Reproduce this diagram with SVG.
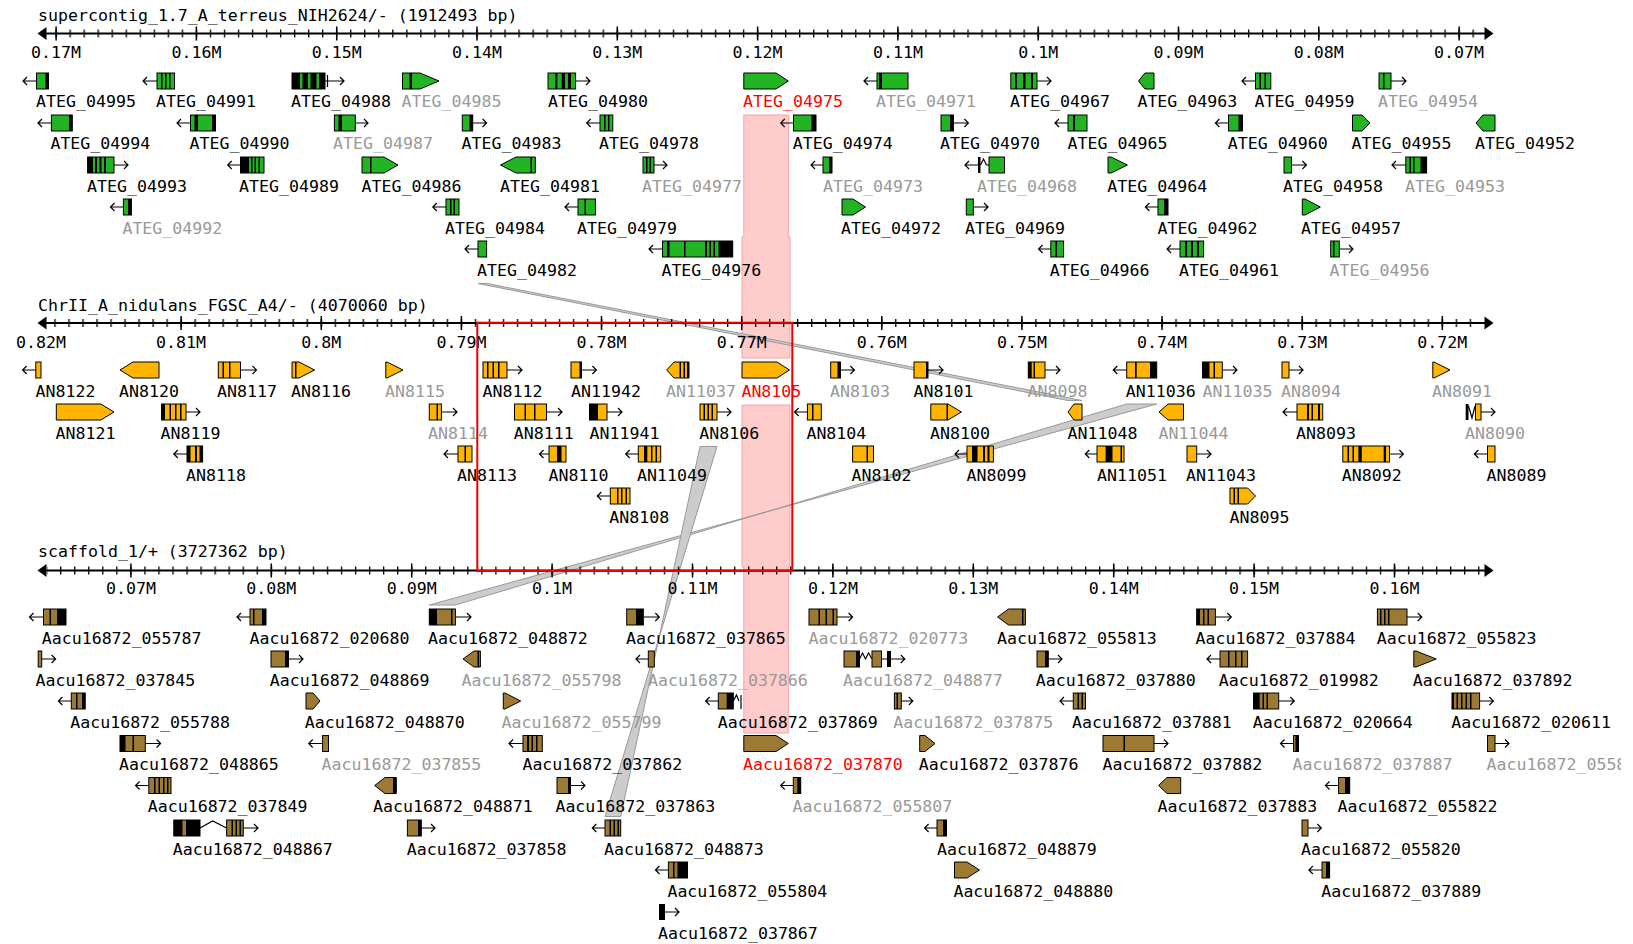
<svg xmlns="http://www.w3.org/2000/svg" width="1633" height="944" viewBox="0 0 1633 944">
<defs>
<style>
.t{font-family:"DejaVu Sans Mono","Liberation Mono",monospace;font-size:16.6px;fill:#000}
.tm{text-anchor:middle}
.gy{fill:#999}
.rd{fill:#f00}
.a{fill:none;stroke:#000;stroke-width:1.2}
.G{fill:#22b422;stroke:#000}
.O{fill:#ffb400;stroke:#000}
.B{fill:#9c7a34;stroke:#000}
.c{fill:#ccc;stroke:#999}
.pk{fill:#ffcccc;stroke:#f4a4a4}
.ax{stroke:#000;stroke-width:2;fill:none}
.mj{stroke:#000;stroke-width:1.5;fill:none}
</style>
<pattern id="p1" patternUnits="userSpaceOnUse" x="55.45" y="0" width="14.03" height="944"><rect width="1.3" height="944"/></pattern>
<pattern id="p2" patternUnits="userSpaceOnUse" x="40.35" y="0" width="14.013" height="944"><rect width="1.3" height="944"/></pattern>
<pattern id="p3" patternUnits="userSpaceOnUse" x="130.25" y="0" width="14.04" height="944"><rect width="1.3" height="944"/></pattern>
<clipPath id="cp"><rect width="1621" height="944"/></clipPath>
</defs>
<rect width="1633" height="944" fill="#fff"/>
<g id="highlights">
<path class="pk" d="M743.8 115H788.3V237H790V358H742V237H743.8Z"/>
<path class="pk" d="M742 405H790V567H788.3V733H743.8V567H742Z"/>
</g>
<g id="connectors">
<polygon class="c" points="478,283.5 487,283.5 1082,400.5 1068,400.5"/>
<polygon class="c" points="1126.7,404 1156.7,404 429.3,605 455.4,605"/>
<polygon class="c" points="700,446.5 717,446.5 605,816.5 620.7,816.5"/>
</g>
<g id="axis-terreus">
<text class="t" x="38" y="20.7">supercontig_1.7_A_terreus_NIH2624/- (1912493 bp)</text>
<path class="ax" d="M40 33.5H1490"/>
<polygon points="37.5,33.5 46.5,27 46.5,40"/>
<polygon points="1493.5,33.5 1484.5,27 1484.5,40"/>
<rect x="47" y="29.5" width="1433" height="8" fill="url(#p1)"/>
<path class="mj" d="M56.1 26.5v14M196.4 26.5v14M336.7 26.5v14M477 26.5v14M617.3 26.5v14M757.6 26.5v14M897.9 26.5v14M1038.2 26.5v14M1178.5 26.5v14M1318.8 26.5v14M1459.1 26.5v14"/>
<text class="t tm" x="56.1" y="58.3">0.17M</text><text class="t tm" x="196.4" y="58.3">0.16M</text><text class="t tm" x="336.7" y="58.3">0.15M</text><text class="t tm" x="477" y="58.3">0.14M</text><text class="t tm" x="617.3" y="58.3">0.13M</text><text class="t tm" x="757.6" y="58.3">0.12M</text><text class="t tm" x="897.9" y="58.3">0.11M</text><text class="t tm" x="1038.2" y="58.3">0.1M</text><text class="t tm" x="1178.5" y="58.3">0.09M</text><text class="t tm" x="1318.8" y="58.3">0.08M</text><text class="t tm" x="1459.1" y="58.3">0.07M</text>
</g>
<g id="axis-nidulans">
<text class="t" x="38" y="310.5">ChrII_A_nidulans_FGSC_A4/- (4070060 bp)</text>
<path class="ax" d="M40 323H1490"/>
<polygon points="37.5,323 46.5,316.5 46.5,329.5"/>
<polygon points="1493.5,323 1484.5,316.5 1484.5,329.5"/>
<rect x="47" y="319" width="1433" height="8" fill="url(#p2)"/>
<path class="mj" d="M181.1 316v14M321.3 316v14M461.4 316v14M601.5 316v14M741.7 316v14M881.8 316v14M1021.9 316v14M1162 316v14M1302.2 316v14M1442.3 316v14"/>
<text class="t tm" x="41" y="347.7">0.82M</text><text class="t tm" x="181.1" y="347.7">0.81M</text><text class="t tm" x="321.3" y="347.7">0.8M</text><text class="t tm" x="461.4" y="347.7">0.79M</text><text class="t tm" x="601.5" y="347.7">0.78M</text><text class="t tm" x="741.7" y="347.7">0.77M</text><text class="t tm" x="881.8" y="347.7">0.76M</text><text class="t tm" x="1021.9" y="347.7">0.75M</text><text class="t tm" x="1162" y="347.7">0.74M</text><text class="t tm" x="1302.2" y="347.7">0.73M</text><text class="t tm" x="1442.3" y="347.7">0.72M</text>
</g>
<g id="axis-scaffold">
<text class="t" x="38" y="556.7">scaffold_1/+ (3727362 bp)</text>
<path class="ax" d="M40 570.5H1490"/>
<polygon points="37.5,570.5 46.5,564 46.5,577"/>
<polygon points="1493.5,570.5 1484.5,564 1484.5,577"/>
<rect x="47" y="566.5" width="1433" height="8" fill="url(#p3)"/>
<path class="mj" d="M130.9 563.5v14M271.3 563.5v14M411.7 563.5v14M552.1 563.5v14M692.5 563.5v14M832.9 563.5v14M973.3 563.5v14M1113.7 563.5v14M1254.1 563.5v14M1394.5 563.5v14"/>
<text class="t tm" x="130.9" y="594.3">0.07M</text><text class="t tm" x="271.3" y="594.3">0.08M</text><text class="t tm" x="411.7" y="594.3">0.09M</text><text class="t tm" x="552.1" y="594.3">0.1M</text><text class="t tm" x="692.5" y="594.3">0.11M</text><text class="t tm" x="832.9" y="594.3">0.12M</text><text class="t tm" x="973.3" y="594.3">0.13M</text><text class="t tm" x="1113.7" y="594.3">0.14M</text><text class="t tm" x="1254.1" y="594.3">0.15M</text><text class="t tm" x="1394.5" y="594.3">0.16M</text>
</g>
<g id="genes-terreus">
<g id="ATEG_04995"><path class="a" d="M36.5 81H23m4-4l-4 4 4 4"/><rect class="G" x="36.5" y="73" width="12" height="16"/><path d="M45.5 73h3v16h-3z"/><text class="t" x="36" y="107">ATEG_04995</text></g>
<g id="ATEG_04991"><path class="a" d="M157 81H143m4-4l-4 4 4 4"/><rect class="G" x="157" y="73" width="17.5" height="16"/><path d="M161 73h1.5v16h-1.5zM165 73h1.5v16h-1.5zM169 73h1.5v16h-1.5z"/><text class="t" x="156" y="107">ATEG_04991</text></g>
<g id="ATEG_04988"><path class="a" d="M325 81H344m-4-4l4 4-4 4M327.5 75v12"/><rect class="G" x="292" y="73" width="33" height="16"/><path d="M292 73h8v16h-8zM302.5 73h5.5v16h-5.5zM310.5 73h6v16h-6zM319 73h6v16h-6z"/><text class="t" x="291" y="107">ATEG_04988</text></g>
<g id="ATEG_04985"><rect class="G" x="402.5" y="73" width="9" height="16"/><path d="M409.5 73h2v16h-2z"/><polygon class="G" points="411.5,73 420,73 439,81 420,89 411.5,89"/><text class="t gy" x="401.5" y="107">ATEG_04985</text></g>
<g id="ATEG_04980"><path class="a" d="M575.6 81H590m-4-4l4 4-4 4"/><rect class="G" x="548" y="73" width="27.6" height="16"/><path d="M555.4 73h2v16h-2zM561.7 73h3.3v16h-3.3zM568 73h3v16h-3z"/><text class="t" x="548" y="107">ATEG_04980</text></g>
<g id="ATEG_04975"><polygon class="G" points="743.8,73 776,73 788.3,81 776,89 743.8,89"/><text class="t rd" x="743" y="107">ATEG_04975</text></g>
<g id="ATEG_04971"><path class="a" d="M877 81H864m4-4l-4 4 4 4"/><rect class="G" x="877" y="73" width="31" height="16"/><path d="M879 73h3v16h-3z"/><text class="t gy" x="876" y="107">ATEG_04971</text></g>
<g id="ATEG_04967"><path class="a" d="M1037 81H1051m-4-4l4 4-4 4"/><rect class="G" x="1010.8" y="73" width="26.2" height="16"/><path d="M1015 73h2v16h-2zM1023 73h2.5v16h-2.5zM1031 73h2v16h-2z"/><text class="t" x="1010" y="107">ATEG_04967</text></g>
<g id="ATEG_04963"><polygon class="G" points="1154,73 1145,73 1138.5,81 1145,89 1154,89"/><text class="t" x="1137.4" y="107">ATEG_04963</text></g>
<g id="ATEG_04959"><path class="a" d="M1255.5 81H1242m4-4l-4 4 4 4"/><rect class="G" x="1255.5" y="73" width="15.3" height="16"/><path d="M1259.5 73h1.5v16h-1.5zM1264.5 73h1.5v16h-1.5z"/><text class="t" x="1254.5" y="107">ATEG_04959</text></g>
<g id="ATEG_04954"><path class="a" d="M1391 81H1406m-4-4l4 4-4 4"/><rect class="G" x="1379" y="73" width="12" height="16"/><path d="M1383 73h1.5v16h-1.5z"/><text class="t gy" x="1378" y="107">ATEG_04954</text></g>
<g id="ATEG_04994"><path class="a" d="M51.4 123H38m4-4l-4 4 4 4"/><rect class="G" x="51.4" y="115" width="20.9" height="16"/><path d="M69 115h3.3v16h-3.3z"/><text class="t" x="50.4" y="149">ATEG_04994</text></g>
<g id="ATEG_04990"><path class="a" d="M190.5 123H177m4-4l-4 4 4 4"/><rect class="G" x="190.5" y="115" width="25" height="16"/><path d="M194.5 115h3.5v16h-3.5zM212 115h3.5v16h-3.5z"/><text class="t" x="189.5" y="149">ATEG_04990</text></g>
<g id="ATEG_04987"><path class="a" d="M355.3 123H368m-4-4l4 4-4 4"/><rect class="G" x="334.4" y="115" width="20.9" height="16"/><path d="M338.5 115h3.5v16h-3.5z"/><text class="t gy" x="333" y="149">ATEG_04987</text></g>
<g id="ATEG_04983"><path class="a" d="M472.7 123H486.6m-4-4l4 4-4 4"/><rect class="G" x="462.3" y="115" width="10.4" height="16"/><path d="M469.5 115h3.2v16h-3.2z"/><text class="t" x="461.6" y="149">ATEG_04983</text></g>
<g id="ATEG_04978"><path class="a" d="M600 123H586.7m4-4l-4 4 4 4"/><rect class="G" x="600" y="115" width="12.8" height="16"/><path d="M604 115h1.5v16h-1.5zM608 115h1.5v16h-1.5z"/><text class="t" x="599" y="149">ATEG_04978</text></g>
<g id="ATEG_04974"><path class="a" d="M793.5 123H780.7m4-4l-4 4 4 4"/><rect class="G" x="793.5" y="115" width="22.5" height="16"/><path d="M811.5 115h4.5v16h-4.5z"/><text class="t" x="792.8" y="149">ATEG_04974</text></g>
<g id="ATEG_04970"><path class="a" d="M953.4 123H968.4m-4-4l4 4-4 4"/><rect class="G" x="941" y="115" width="12.4" height="16"/><path d="M950 115h3.4v16h-3.4z"/><text class="t" x="940" y="149">ATEG_04970</text></g>
<g id="ATEG_04965"><path class="a" d="M1068 123H1055m4-4l-4 4 4 4"/><rect class="G" x="1068" y="115" width="19" height="16"/><path d="M1073 115h2v16h-2z"/><text class="t" x="1067.5" y="149">ATEG_04965</text></g>
<g id="ATEG_04960"><path class="a" d="M1228.5 123H1215.4m4-4l-4 4 4 4"/><rect class="G" x="1228.5" y="115" width="13.9" height="16"/><path d="M1238.5 115h3.9v16h-3.9z"/><text class="t" x="1227.8" y="149">ATEG_04960</text></g>
<g id="ATEG_04955"><polygon class="G" points="1352.5,115 1362,115 1369.8,123 1362,131 1352.5,131"/><text class="t" x="1351.5" y="149">ATEG_04955</text></g>
<g id="ATEG_04952"><polygon class="G" points="1495,115 1483,115 1476,123 1483,131 1495,131"/><text class="t" x="1475" y="149">ATEG_04952</text></g>
<g id="ATEG_04993"><path class="a" d="M114 165H128m-4-4l4 4-4 4"/><rect class="G" x="87.6" y="157" width="26.4" height="16"/><path d="M87.6 157h5.4v16h-5.4zM95 157h2v16h-2zM99.5 157h2v16h-2zM104 157h2v16h-2z"/><text class="t" x="87" y="191.5">ATEG_04993</text></g>
<g id="ATEG_04989"><path class="a" d="M240.5 165H227.7m4-4l-4 4 4 4"/><rect class="G" x="240.5" y="157" width="23.5" height="16"/><path d="M240.5 157h8.5v16h-8.5zM251 157h1.5v16h-1.5zM254.5 157h1.5v16h-1.5zM258.5 157h1.5v16h-1.5z"/><text class="t" x="239" y="191.5">ATEG_04989</text></g>
<g id="ATEG_04986"><polygon class="G" points="362,157 384,157 398,165 384,173 362,173"/><path d="M370 157h1.5v16h-1.5z"/><text class="t" x="361.5" y="191.5">ATEG_04986</text></g>
<g id="ATEG_04981"><polygon class="G" points="535.3,157 516,157 500.5,165 516,173 535.3,173"/><path d="M530.5 157h1.5v16h-1.5z"/><text class="t" x="500" y="191.5">ATEG_04981</text></g>
<g id="ATEG_04977"><path class="a" d="M654 165H667m-4-4l4 4-4 4"/><rect class="G" x="643" y="157" width="11" height="16"/><path d="M646 157h1.5v16h-1.5zM649.5 157h1.5v16h-1.5z"/><text class="t gy" x="642" y="191.5">ATEG_04977</text></g>
<g id="ATEG_04973"><path class="a" d="M823 165H811m4-4l-4 4 4 4"/><rect class="G" x="823" y="157" width="9" height="16"/><path d="M829 157h3v16h-3z"/><text class="t gy" x="823" y="191.5">ATEG_04973</text></g>
<g id="ATEG_04968"><path class="a" d="M978 165H965m4-4l-4 4 4 4M980.5 165L983.5 159 986.5 165H989"/><path d="M978 157h2.5v16h-2.5z"/><rect class="G" x="989" y="157" width="15.5" height="16"/><text class="t gy" x="977" y="191.5">ATEG_04968</text></g>
<g id="ATEG_04964"><polygon class="G" points="1108,157 1111,157 1127.4,165 1111,173 1108,173"/><text class="t" x="1107.3" y="191.5">ATEG_04964</text></g>
<g id="ATEG_04958"><path class="a" d="M1291.5 165H1306.4m-4-4l4 4-4 4"/><rect class="G" x="1284" y="157" width="7.5" height="16"/><text class="t" x="1283" y="191.5">ATEG_04958</text></g>
<g id="ATEG_04953"><path class="a" d="M1405.8 165H1392m4-4l-4 4 4 4"/><rect class="G" x="1405.8" y="157" width="20.8" height="16"/><path d="M1409.5 157h1.5v16h-1.5zM1413 157h1.5v16h-1.5zM1420.5 157h6.1v16h-6.1z"/><text class="t gy" x="1405" y="191.5">ATEG_04953</text></g>
<g id="ATEG_04992"><path class="a" d="M123.4 207H110.5m4-4l-4 4 4 4"/><rect class="G" x="123.4" y="199" width="8" height="16"/><path d="M128 199h3.4v16h-3.4z"/><text class="t gy" x="122.4" y="233.5">ATEG_04992</text></g>
<g id="ATEG_04984"><path class="a" d="M446 207H432.8m4-4l-4 4 4 4"/><rect class="G" x="446" y="199" width="13" height="16"/><path d="M450 199h1.5v16h-1.5zM453.5 199h1.5v16h-1.5z"/><text class="t" x="445" y="233.5">ATEG_04984</text></g>
<g id="ATEG_04979"><path class="a" d="M578 207H565m4-4l-4 4 4 4"/><rect class="G" x="578" y="199" width="17.4" height="16"/><path d="M584.5 199h1.5v16h-1.5z"/><text class="t" x="577" y="233.5">ATEG_04979</text></g>
<g id="ATEG_04972"><polygon class="G" points="842,199 853,199 865.5,207 853,215 842,215"/><text class="t" x="841" y="233.5">ATEG_04972</text></g>
<g id="ATEG_04969"><path class="a" d="M973.3 207H988m-4-4l4 4-4 4"/><rect class="G" x="966.3" y="199" width="7" height="16"/><text class="t" x="965" y="233.5">ATEG_04969</text></g>
<g id="ATEG_04962"><path class="a" d="M1158 207H1145.4m4-4l-4 4 4 4"/><rect class="G" x="1158" y="199" width="10" height="16"/><path d="M1164 199h4v16h-4z"/><text class="t" x="1157.5" y="233.5">ATEG_04962</text></g>
<g id="ATEG_04957"><polygon class="G" points="1302.3,199 1305,199 1320.3,207 1305,215 1302.3,215"/><text class="t" x="1301" y="233.5">ATEG_04957</text></g>
<g id="ATEG_04982"><path class="a" d="M478 249H465m4-4l-4 4 4 4"/><rect class="G" x="478" y="241" width="8.6" height="16"/><text class="t" x="477" y="275.5">ATEG_04982</text></g>
<g id="ATEG_04976"><path class="a" d="M662.5 249H649m4-4l-4 4 4 4"/><rect class="G" x="662.5" y="241" width="70.2" height="16"/><path d="M667 241h2.5v16h-2.5zM684 241h1.5v16h-1.5zM705 241h2v16h-2zM709.5 241h1.5v16h-1.5zM713.5 241h1.5v16h-1.5zM718.5 241h14.2v16h-14.2z"/><text class="t" x="661.4" y="275.5">ATEG_04976</text></g>
<g id="ATEG_04966"><path class="a" d="M1050.8 249H1038.6m4-4l-4 4 4 4"/><rect class="G" x="1050.8" y="241" width="12.8" height="16"/><path d="M1055.5 241h1.5v16h-1.5z"/><text class="t" x="1049.7" y="275.5">ATEG_04966</text></g>
<g id="ATEG_04961"><path class="a" d="M1180 249H1167m4-4l-4 4 4 4"/><rect class="G" x="1180" y="241" width="23.6" height="16"/><path d="M1185 241h2v16h-2zM1191 241h2v16h-2zM1197 241h2v16h-2z"/><text class="t" x="1179" y="275.5">ATEG_04961</text></g>
<g id="ATEG_04956"><path class="a" d="M1339.3 249H1353m-4-4l4 4-4 4"/><rect class="G" x="1330.7" y="241" width="8.6" height="16"/><path d="M1333 241h1.5v16h-1.5z"/><text class="t gy" x="1329.6" y="275.5">ATEG_04956</text></g>
</g>
<g id="genes-nidulans">
<g id="AN8122"><path class="a" d="M35.8 370H22.6m4-4l-4 4 4 4"/><rect class="O" x="35.8" y="362" width="5.2" height="16"/><text class="t" x="35.5" y="397">AN8122</text></g>
<g id="AN8120"><polygon class="O" points="159,362 133,362 120,370 133,378 159,378"/><text class="t" x="119" y="397">AN8120</text></g>
<g id="AN8117"><path class="a" d="M240.5 370H256.5m-4-4l4 4-4 4"/><rect class="O" x="218.3" y="362" width="22.2" height="16"/><path d="M222.5 362h1.5v16h-1.5zM229 362h1.5v16h-1.5z"/><text class="t" x="217" y="397">AN8117</text></g>
<g id="AN8116"><polygon class="O" points="292,362 299,362 314.6,370 299,378 292,378"/><path d="M295 362h1.5v16h-1.5z"/><text class="t" x="291" y="397">AN8116</text></g>
<g id="AN8115"><polygon class="O" points="385.8,362 387,362 403,370 387,378 385.8,378"/><text class="t gy" x="385" y="397">AN8115</text></g>
<g id="AN8112"><path class="a" d="M507 370H522m-4-4l4 4-4 4"/><rect class="O" x="483" y="362" width="24" height="16"/><path d="M487 362h1.5v16h-1.5zM492.5 362h1.5v16h-1.5zM498 362h1.5v16h-1.5z"/><text class="t" x="482.5" y="397">AN8112</text></g>
<g id="AN11942"><path class="a" d="M581.5 370H596.4m-4-4l4 4-4 4"/><rect class="O" x="571" y="362" width="10.5" height="16"/><path d="M579.5 362h2v16h-2z"/><text class="t" x="571" y="397">AN11942</text></g>
<g id="AN11037"><polygon class="O" points="689,362 674,362 666.7,370 674,378 689,378"/><path d="M679.5 362h1.5v16h-1.5zM683.5 362h1.5v16h-1.5zM687 362h2v16h-2z"/><text class="t gy" x="666" y="397">AN11037</text></g>
<g id="AN8105"><polygon class="O" points="742,362 777,362 789.4,370 777,378 742,378"/><text class="t rd" x="741.4" y="397">AN8105</text></g>
<g id="AN8103"><path class="a" d="M840.5 370H854.4m-4-4l4 4-4 4"/><rect class="O" x="830.7" y="362" width="9.8" height="16"/><path d="M837.5 362h3v16h-3z"/><text class="t gy" x="830" y="397">AN8103</text></g>
<g id="AN8101"><path class="a" d="M928 370H943m-4-4l4 4-4 4"/><rect class="O" x="914" y="362" width="14" height="16"/><path d="M926 362h2v16h-2z"/><text class="t" x="913.5" y="397">AN8101</text></g>
<g id="AN8098"><path class="a" d="M1045 370H1060m-4-4l4 4-4 4"/><rect class="O" x="1028.3" y="362" width="16.7" height="16"/><path d="M1028.3 362h3.4v16h-3.4zM1033.5 362h1.5v16h-1.5z"/><text class="t gy" x="1027.5" y="397">AN8098</text></g>
<g id="AN11036"><path class="a" d="M1126.7 370H1113.3m4-4l-4 4 4 4"/><rect class="O" x="1126.7" y="362" width="30" height="16"/><path d="M1135 362h1.7v16h-1.7zM1150 362h6.7v16h-6.7z"/><text class="t" x="1125.7" y="397">AN11036</text></g>
<g id="AN11035"><path class="a" d="M1222.3 370H1237m-4-4l4 4-4 4"/><rect class="O" x="1202.5" y="362" width="19.8" height="16"/><path d="M1202.5 362h7v16h-7zM1213.5 362h1.5v16h-1.5z"/><text class="t gy" x="1202.5" y="397">AN11035</text></g>
<g id="AN8094"><path class="a" d="M1289 370H1303m-4-4l4 4-4 4"/><rect class="O" x="1282" y="362" width="7" height="16"/><text class="t gy" x="1281" y="397">AN8094</text></g>
<g id="AN8091"><polygon class="O" points="1432.8,362 1434,362 1450,370 1434,378 1432.8,378"/><text class="t gy" x="1432" y="397">AN8091</text></g>
<g id="AN8121"><polygon class="O" points="56.3,404 100.8,404 114,412 100.8,420 56.3,420"/><text class="t" x="55.6" y="439">AN8121</text></g>
<g id="AN8119"><path class="a" d="M186 412H200m-4-4l4 4-4 4"/><rect class="O" x="161.6" y="404" width="24.4" height="16"/><path d="M161.6 404h3.4v16h-3.4zM169.5 404h1.5v16h-1.5zM175 404h1.5v16h-1.5zM180 404h1.5v16h-1.5z"/><text class="t" x="160.6" y="439">AN8119</text></g>
<g id="AN8114"><path class="a" d="M441.4 412H457m-4-4l4 4-4 4"/><rect class="O" x="429.3" y="404" width="12.1" height="16"/><path d="M436.5 404h1.5v16h-1.5z"/><text class="t gy" x="428" y="439">AN8114</text></g>
<g id="AN8111"><path class="a" d="M546.5 412H562m-4-4l4 4-4 4"/><rect class="O" x="514.5" y="404" width="32" height="16"/><path d="M524.5 404h1.5v16h-1.5zM534 404h1.5v16h-1.5z"/><text class="t" x="513.7" y="439">AN8111</text></g>
<g id="AN11941"><path class="a" d="M607 412H622m-4-4l4 4-4 4"/><rect class="O" x="589.5" y="404" width="17.5" height="16"/><path d="M589.5 404h8.5v16h-8.5z"/><text class="t" x="589.5" y="439">AN11941</text></g>
<g id="AN8106"><path class="a" d="M717 412H731m-4-4l4 4-4 4"/><rect class="O" x="700" y="404" width="17" height="16"/><path d="M703.5 404h1.5v16h-1.5zM707.5 404h1.5v16h-1.5zM711.5 404h1.5v16h-1.5z"/><text class="t" x="699.3" y="439">AN8106</text></g>
<g id="AN8104"><path class="a" d="M807.4 412H794.6m4-4l-4 4 4 4"/><rect class="O" x="807.4" y="404" width="13.9" height="16"/><path d="M812 404h1.5v16h-1.5z"/><text class="t" x="806.4" y="439">AN8104</text></g>
<g id="AN8100"><polygon class="O" points="930.8,404 948,404 961.4,412 948,420 930.8,420"/><path d="M946.5 404h1.5v16h-1.5z"/><text class="t" x="930" y="439">AN8100</text></g>
<g id="AN11048"><polygon class="O" points="1082,404 1074,404 1068,412 1074,420 1082,420"/><text class="t" x="1067.5" y="439">AN11048</text></g>
<g id="AN11044"><polygon class="O" points="1183.5,404 1168,404 1159,412 1168,420 1183.5,420"/><text class="t gy" x="1158.6" y="439">AN11044</text></g>
<g id="AN8093"><path class="a" d="M1297 412H1283m4-4l-4 4 4 4"/><rect class="O" x="1297" y="404" width="25.7" height="16"/><path d="M1307 404h2v16h-2zM1311.5 404h1.5v16h-1.5zM1318 404h2v16h-2z"/><text class="t" x="1296" y="439">AN8093</text></g>
<g id="AN8090"><path class="a" d="M1481 412H1495m-4-4l4 4-4 4M1468.5 406L1472 418 1475 406"/><path d="M1465.7 404h2.8v16h-2.8z"/><rect class="O" x="1475.5" y="404" width="5.5" height="16"/><text class="t gy" x="1465" y="439">AN8090</text></g>
<g id="AN8118"><path class="a" d="M187 454H173.8m4-4l-4 4 4 4"/><rect class="O" x="187" y="446" width="15.6" height="16"/><path d="M187 446h3.5v16h-3.5zM195 446h2v16h-2zM199.5 446h3.1v16h-3.1z"/><text class="t" x="186" y="481">AN8118</text></g>
<g id="AN8113"><path class="a" d="M458 454H444m4-4l-4 4 4 4"/><rect class="O" x="458" y="446" width="14" height="16"/><path d="M464.5 446h1.5v16h-1.5z"/><text class="t" x="457" y="481">AN8113</text></g>
<g id="AN8110"><path class="a" d="M549 454H539.5m4-4l-4 4 4 4"/><rect class="O" x="549" y="446" width="17" height="16"/><path d="M557 446h4.5v16h-4.5z"/><text class="t" x="548.5" y="481">AN8110</text></g>
<g id="AN11049"><path class="a" d="M638.3 454H625.7m4-4l-4 4 4 4"/><rect class="O" x="638.3" y="446" width="22.4" height="16"/><path d="M644 446h3.3v16h-3.3zM651 446h1.5v16h-1.5zM655.5 446h1.5v16h-1.5z"/><text class="t" x="637" y="481">AN11049</text></g>
<g id="AN8102"><rect class="O" x="852.6" y="446" width="20.9" height="16"/><path d="M866.5 446h1.5v16h-1.5z"/><text class="t" x="851.6" y="481">AN8102</text></g>
<g id="AN8099"><path class="a" d="M967 454H955m4-4l-4 4 4 4"/><rect class="O" x="967" y="446" width="26.4" height="16"/><path d="M972 446h5.5v16h-5.5zM983 446h2v16h-2zM987.5 446h2v16h-2z"/><text class="t" x="966.6" y="481">AN8099</text></g>
<g id="AN11051"><path class="a" d="M1097 454H1085.3m4-4l-4 4 4 4"/><rect class="O" x="1097" y="446" width="27" height="16"/><path d="M1105.6 446h6.9v16h-6.9zM1120.5 446h1.5v16h-1.5z"/><text class="t" x="1097" y="481">AN11051</text></g>
<g id="AN11043"><path class="a" d="M1196.7 454H1211m-4-4l4 4-4 4"/><rect class="O" x="1187" y="446" width="9.7" height="16"/><text class="t" x="1186" y="481">AN11043</text></g>
<g id="AN8092"><path class="a" d="M1389.5 454H1403.4m-4-4l4 4-4 4"/><rect class="O" x="1342.8" y="446" width="46.7" height="16"/><path d="M1347.5 446h1.5v16h-1.5zM1352.5 446h1.5v16h-1.5zM1358.4 446h3.4v16h-3.4zM1383.7 446h2.3v16h-2.3z"/><text class="t" x="1341.8" y="481">AN8092</text></g>
<g id="AN8089"><path class="a" d="M1487.5 454H1474.4m4-4l-4 4 4 4"/><rect class="O" x="1487.5" y="446" width="7.5" height="16"/><text class="t" x="1486.5" y="481">AN8089</text></g>
<g id="AN8108"><path class="a" d="M610.3 496H597.3m4-4l-4 4 4 4"/><rect class="O" x="610.3" y="488" width="19.7" height="16"/><path d="M617 488h1.5v16h-1.5zM621 488h1.5v16h-1.5zM625.5 488h1.5v16h-1.5z"/><text class="t" x="609.3" y="523">AN8108</text></g>
<g id="AN8095"><polygon class="O" points="1230,488 1247.6,488 1255.5,496 1247.6,504 1230,504"/><path d="M1233.5 488h1.5v16h-1.5zM1237.5 488h1.5v16h-1.5z"/><text class="t" x="1229.6" y="523">AN8095</text></g>
</g>
<g id="genes-scaffold">
<g id="Aacu16872_055787"><path class="a" d="M43.5 617H29.5m4-4l-4 4 4 4"/><rect class="B" x="43.5" y="609" width="22.5" height="16"/><path d="M49.5 609h1.5v16h-1.5zM57 609h9v16h-9z"/><text class="t" x="41.7" y="643.5">Aacu16872_055787</text></g>
<g id="Aacu16872_020680"><path class="a" d="M250 617H237m4-4l-4 4 4 4"/><rect class="B" x="250" y="609" width="16" height="16"/><path d="M253 609h1.5v16h-1.5zM262 609h4v16h-4z"/><text class="t" x="249.6" y="643.5">Aacu16872_020680</text></g>
<g id="Aacu16872_048872"><path class="a" d="M455.4 617H471m-4-4l4 4-4 4"/><rect class="B" x="429.3" y="609" width="26.1" height="16"/><path d="M429.3 609h7.7v16h-7.7zM451 609h1.5v16h-1.5z"/><text class="t" x="428" y="643.5">Aacu16872_048872</text></g>
<g id="Aacu16872_037865"><path class="a" d="M643.3 617H659.3m-4-4l4 4-4 4"/><rect class="B" x="626.7" y="609" width="16.6" height="16"/><path d="M636 609h7.3v16h-7.3z"/><text class="t" x="626" y="643.5">Aacu16872_037865</text></g>
<g id="Aacu16872_020773"><path class="a" d="M837 617H852.6m-4-4l4 4-4 4"/><rect class="B" x="809" y="609" width="28" height="16"/><path d="M818.5 609h1.5v16h-1.5zM825.5 609h1.5v16h-1.5zM832.5 609h1.5v16h-1.5z"/><text class="t gy" x="808.5" y="643.5">Aacu16872_020773</text></g>
<g id="Aacu16872_055813"><polygon class="B" points="1025.4,609 1008.5,609 997.6,617 1008.5,625 1025.4,625"/><path d="M1022 609h1.5v16h-1.5z"/><text class="t" x="997" y="643.5">Aacu16872_055813</text></g>
<g id="Aacu16872_037884"><path class="a" d="M1215.4 617H1231.3m-4-4l4 4-4 4"/><rect class="B" x="1196.7" y="609" width="18.7" height="16"/><path d="M1196.7 609h3.3v16h-3.3zM1203 609h1.5v16h-1.5zM1207.5 609h1.5v16h-1.5z"/><text class="t" x="1195.6" y="643.5">Aacu16872_037884</text></g>
<g id="Aacu16872_055823"><path class="a" d="M1407 617H1421.8m-4-4l4 4-4 4"/><rect class="B" x="1377.4" y="609" width="29.6" height="16"/><path d="M1380 609h1.5v16h-1.5zM1384 609h1.5v16h-1.5zM1388 609h1.5v16h-1.5z"/><text class="t" x="1376.7" y="643.5">Aacu16872_055823</text></g>
<g id="Aacu16872_037845"><path class="a" d="M41.7 659H55.6m-4-4l4 4-4 4"/><rect class="B" x="38.2" y="651" width="3.5" height="16"/><text class="t" x="35.5" y="685.5">Aacu16872_037845</text></g>
<g id="Aacu16872_048869"><path class="a" d="M288.5 659H303m-4-4l4 4-4 4"/><rect class="B" x="271" y="651" width="17.5" height="16"/><path d="M285 651h3.5v16h-3.5z"/><text class="t" x="269.7" y="685.5">Aacu16872_048869</text></g>
<g id="Aacu16872_055798"><polygon class="B" points="480.4,651 474,651 463,659 474,667 480.4,667"/><path d="M477.5 651h1.5v16h-1.5z"/><text class="t gy" x="461.6" y="685.5">Aacu16872_055798</text></g>
<g id="Aacu16872_037866"><path class="a" d="M648.3 659H636m4-4l-4 4 4 4"/><rect class="B" x="648.3" y="651" width="6" height="16"/><text class="t gy" x="648" y="685.5">Aacu16872_037866</text></g>
<g id="Aacu16872_048877"><path class="a" d="M859.5 659L862.5 653 865.5 659 868.5 653 872 659M881.5 659H887M891 659H904.8m-4-4l4 4-4 4"/><rect class="B" x="844" y="651" width="15.5" height="16"/><path d="M856 651h3.5v16h-3.5zM887 651h4v16h-4z"/><rect class="B" x="872" y="651" width="9.5" height="16"/><text class="t gy" x="843" y="685.5">Aacu16872_048877</text></g>
<g id="Aacu16872_037880"><path class="a" d="M1048.3 659H1062m-4-4l4 4-4 4"/><rect class="B" x="1037" y="651" width="11.3" height="16"/><path d="M1045 651h3.3v16h-3.3z"/><text class="t" x="1035.8" y="685.5">Aacu16872_037880</text></g>
<g id="Aacu16872_019982"><path class="a" d="M1220 659H1207m4-4l-4 4 4 4"/><rect class="B" x="1220" y="651" width="27.6" height="16"/><path d="M1228 651h1.5v16h-1.5zM1235 651h1.5v16h-1.5zM1241 651h1.5v16h-1.5z"/><text class="t" x="1218.8" y="685.5">Aacu16872_019982</text></g>
<g id="Aacu16872_037892"><polygon class="B" points="1413.8,651 1416,651 1436.3,659 1416,667 1413.8,667"/><text class="t" x="1412.7" y="685.5">Aacu16872_037892</text></g>
<g id="Aacu16872_055788"><path class="a" d="M71.3 701H58.4m4-4l-4 4 4 4"/><rect class="B" x="71.3" y="693" width="13.9" height="16"/><path d="M76 693h1.5v16h-1.5zM82 693h3.2v16h-3.2z"/><text class="t" x="70.2" y="727.5">Aacu16872_055788</text></g>
<g id="Aacu16872_048870"><polygon class="B" points="306,693 313,693 320,701 313,709 306,709"/><text class="t" x="304.8" y="727.5">Aacu16872_048870</text></g>
<g id="Aacu16872_055799"><polygon class="B" points="503.3,693 505,693 520.7,701 505,709 503.3,709"/><text class="t gy" x="501.6" y="727.5">Aacu16872_055799</text></g>
<g id="Aacu16872_037869"><path class="a" d="M718.3 701H705.6m4-4l-4 4 4 4M733.3 701L736.5 695 739 701M741 695V709"/><rect class="B" x="718.3" y="693" width="15" height="16"/><path d="M726.7 693h6.6v16h-6.6z"/><text class="t" x="717.8" y="727.5">Aacu16872_037869</text></g>
<g id="Aacu16872_037875"><path class="a" d="M901.3 701H912.8m-4-4l4 4-4 4"/><rect class="B" x="894.4" y="693" width="6.9" height="16"/><path d="M896.5 693h1.5v16h-1.5z"/><text class="t gy" x="893.3" y="727.5">Aacu16872_037875</text></g>
<g id="Aacu16872_037881"><path class="a" d="M1073.3 701H1060m4-4l-4 4 4 4"/><rect class="B" x="1073.3" y="693" width="12.2" height="16"/><path d="M1077.5 693h1.5v16h-1.5zM1081.5 693h1.5v16h-1.5z"/><text class="t" x="1072" y="727.5">Aacu16872_037881</text></g>
<g id="Aacu16872_020664"><path class="a" d="M1278.7 701H1294.3m-4-4l4 4-4 4"/><rect class="B" x="1253.5" y="693" width="25.2" height="16"/><path d="M1253.5 693h6.2v16h-6.2zM1262.5 693h1.5v16h-1.5zM1266.5 693h1.5v16h-1.5z"/><text class="t" x="1252.8" y="727.5">Aacu16872_020664</text></g>
<g id="Aacu16872_020611"><path class="a" d="M1479.6 701H1493.4m-4-4l4 4-4 4"/><rect class="B" x="1452" y="693" width="27.6" height="16"/><path d="M1452 693h2v16h-2zM1456.5 693h1.5v16h-1.5zM1461 693h1.5v16h-1.5zM1465.5 693h1.5v16h-1.5zM1470 693h1.5v16h-1.5z"/><text class="t" x="1451.2" y="727.5">Aacu16872_020611</text></g>
<g id="Aacu16872_048865"><path class="a" d="M145.3 743.5H160.6m-4-4l4 4-4 4"/><rect class="B" x="120" y="735.5" width="25.3" height="16"/><path d="M120 735.5h5.5v16h-5.5zM132.5 735.5h1.5v16h-1.5z"/><text class="t" x="119" y="770">Aacu16872_048865</text></g>
<g id="Aacu16872_037855"><path class="a" d="M322.6 743.5H308.7m4-4l-4 4 4 4"/><rect class="B" x="322.6" y="735.5" width="5.9" height="16"/><text class="t gy" x="321.5" y="770">Aacu16872_037855</text></g>
<g id="Aacu16872_037862"><path class="a" d="M523 743.5H509m4-4l-4 4 4 4"/><rect class="B" x="523" y="735.5" width="19.3" height="16"/><path d="M527 735.5h2v16h-2zM531.5 735.5h1.5v16h-1.5zM536 735.5h1.5v16h-1.5z"/><text class="t" x="522.4" y="770">Aacu16872_037862</text></g>
<g id="Aacu16872_037870"><polygon class="B" points="743.8,735.5 776,735.5 788.3,743.5 776,751.5 743.8,751.5"/><text class="t rd" x="743" y="770">Aacu16872_037870</text></g>
<g id="Aacu16872_037876"><polygon class="B" points="919.7,735.5 925,735.5 935,743.5 925,751.5 919.7,751.5"/><text class="t" x="918.7" y="770">Aacu16872_037876</text></g>
<g id="Aacu16872_037882"><path class="a" d="M1154 743.5H1168m-4-4l4 4-4 4"/><rect class="B" x="1103" y="735.5" width="51" height="16"/><path d="M1123.5 735.5h1.5v16h-1.5z"/><text class="t" x="1102.5" y="770">Aacu16872_037882</text></g>
<g id="Aacu16872_037887"><path class="a" d="M1293.6 743.5H1280.5m4-4l-4 4 4 4"/><rect class="B" x="1293.6" y="735.5" width="4.9" height="16"/><path d="M1295.5 735.5h3v16h-3z"/><text class="t gy" x="1292.6" y="770">Aacu16872_037887</text></g>
<g id="Aacu16872_0558"><path class="a" d="M1495 743.5H1509m-4-4l4 4-4 4"/><rect class="B" x="1487.5" y="735.5" width="7.5" height="16"/><text class="t gy" x="1486.5" y="770" clip-path="url(#cp)">Aacu16872_0558</text></g>
<g id="Aacu16872_037849"><path class="a" d="M148.8 785.5H135.6m4-4l-4 4 4 4"/><rect class="B" x="148.8" y="777.5" width="22.2" height="16"/><path d="M154 777.5h1.5v16h-1.5zM158.5 777.5h1.5v16h-1.5zM163 777.5h1.5v16h-1.5zM167 777.5h1.5v16h-1.5z"/><text class="t" x="147.7" y="812">Aacu16872_037849</text></g>
<g id="Aacu16872_048871"><polygon class="B" points="396.3,777.5 385,777.5 374.7,785.5 385,793.5 396.3,793.5"/><path d="M393 777.5h3.3v16h-3.3z"/><text class="t" x="373" y="812">Aacu16872_048871</text></g>
<g id="Aacu16872_037863"><path class="a" d="M570.5 785.5H585m-4-4l4 4-4 4"/><rect class="B" x="557" y="777.5" width="13.5" height="16"/><path d="M568 777.5h2.5v16h-2.5z"/><text class="t" x="555.4" y="812">Aacu16872_037863</text></g>
<g id="Aacu16872_055807"><path class="a" d="M793.3 785.5H780.7m4-4l-4 4 4 4"/><rect class="B" x="793.3" y="777.5" width="7.4" height="16"/><path d="M797.3 777.5h3.4v16h-3.4z"/><text class="t gy" x="792.5" y="812">Aacu16872_055807</text></g>
<g id="Aacu16872_037883"><polygon class="B" points="1180.7,777.5 1167,777.5 1158.6,785.5 1167,793.5 1180.7,793.5"/><text class="t" x="1157.5" y="812">Aacu16872_037883</text></g>
<g id="Aacu16872_055822"><path class="a" d="M1338.6 785.5H1325.5m4-4l-4 4 4 4"/><rect class="B" x="1338.6" y="777.5" width="11.1" height="16"/><path d="M1345 777.5h4.7v16h-4.7z"/><text class="t" x="1337.6" y="812">Aacu16872_055822</text></g>
<g id="Aacu16872_048867"><path class="a" d="M200 828L212.7 821 226.6 828M243.3 828H258m-4-4l4 4-4 4"/><rect class="B" x="173.8" y="820" width="26.2" height="16"/><path d="M173.8 820h8.7v16h-8.7zM186 820h14v16h-14z"/><rect class="B" x="226.6" y="820" width="16.7" height="16"/><path d="M231.5 820h1.5v16h-1.5zM235.5 820h1.5v16h-1.5zM239.5 820h1.5v16h-1.5z"/><text class="t" x="172.8" y="854.5">Aacu16872_048867</text></g>
<g id="Aacu16872_037858"><path class="a" d="M421.3 828H435m-4-4l4 4-4 4"/><rect class="B" x="407.4" y="820" width="13.9" height="16"/><path d="M418 820h3.3v16h-3.3z"/><text class="t" x="406.7" y="854.5">Aacu16872_037858</text></g>
<g id="Aacu16872_048873"><path class="a" d="M605 828H592.3m4-4l-4 4 4 4"/><rect class="B" x="605" y="820" width="15.7" height="16"/><path d="M609.5 820h1.5v16h-1.5zM613.5 820h1.5v16h-1.5zM617.5 820h1.5v16h-1.5z"/><text class="t" x="604" y="854.5">Aacu16872_048873</text></g>
<g id="Aacu16872_048879"><path class="a" d="M937 828H924.6m4-4l-4 4 4 4"/><rect class="B" x="937" y="820" width="9.5" height="16"/><path d="M943 820h3.5v16h-3.5z"/><text class="t" x="937" y="854.5">Aacu16872_048879</text></g>
<g id="Aacu16872_055820"><path class="a" d="M1308 828H1321.3m-4-4l4 4-4 4"/><rect class="B" x="1302" y="820" width="6" height="16"/><text class="t" x="1301" y="854.5">Aacu16872_055820</text></g>
<g id="Aacu16872_055804"><path class="a" d="M668.4 870H655.5m4-4l-4 4 4 4"/><rect class="B" x="668.4" y="862" width="19.1" height="16"/><path d="M673 862h1.5v16h-1.5zM677.5 862h10v16h-10z"/><text class="t" x="667.4" y="896.5">Aacu16872_055804</text></g>
<g id="Aacu16872_048880"><polygon class="B" points="954.5,862 967,862 979.5,870 967,878 954.5,878"/><text class="t" x="953.4" y="896.5">Aacu16872_048880</text></g>
<g id="Aacu16872_037889"><path class="a" d="M1322 870H1308.9m4-4l-4 4 4 4"/><rect class="B" x="1322" y="862" width="7.6" height="16"/><path d="M1326 862h3.6v16h-3.6z"/><text class="t" x="1321.3" y="896.5">Aacu16872_037889</text></g>
<g id="Aacu16872_037867"><path class="a" d="M665 912H679m-4-4l4 4-4 4"/><rect x="659" y="904" width="6" height="16"/><text class="t" x="658" y="938.5">Aacu16872_037867</text></g>
</g>
<rect id="selection-box" x="477.3" y="322.7" width="315" height="248.3" fill="none" stroke="#e00" stroke-width="2"/>
</svg>
